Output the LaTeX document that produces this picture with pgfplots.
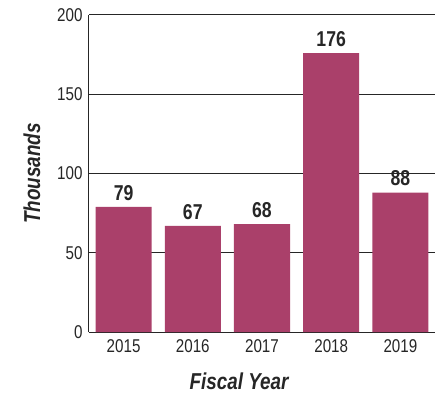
\documentclass[border=0pt]{standalone}
\usepackage{fontspec}
\setmainfont{Liberation Sans}[FakeStretch=0.82]
\usepackage{pgfplots}
\pgfplotsset{compat=1.18}
\definecolor{barc}{RGB}{170,64,106}
\begin{document}
\begin{tikzpicture}
\useasboundingbox (-89pt,-61pt) rectangle (354pt,332pt);
\begin{axis}[
  scale only axis,
  width=346pt, height=317pt,
  anchor=south west, at={(0pt,0pt)},
  xmin=-0.5, xmax=4.5,
  ymin=0, ymax=200,
  axis x line*=bottom,
  axis y line*=left,
  axis line style={line width=1pt, black!85},
  ytick={0,50,100,150,200},
  xtick={0,1,2,3,4},
  xticklabels={2015,2016,2017,2018,2019},
  major tick length=0pt,
  ymajorgrids,
  grid style={line width=1pt, black!85},
  /pgf/number format/assume math mode=true,
  tick label style={font=\fontsize{18.5}{21}\selectfont, text=black!85},
  yticklabel style={xshift=-3pt},
  xticklabel style={yshift=-4pt},
  xlabel={\textbf{\textit{Fiscal Year}}},
  ylabel={\textbf{\textit{Thousands}}},
  label style={font=\fontsize{23}{26}\selectfont, text=black!85},
  xlabel style={at={(axis description cs:0.435,0)}, anchor=north, yshift=-37pt},
  ylabel style={at={(axis description cs:0,0.5)}, anchor=south, yshift=45pt},
  nodes near coords,
  nodes near coords style={font=\fontsize{21.5}{24}\selectfont\bfseries, text=black!85, yshift=3pt},
  point meta=y,
  clip=false,
]
\addplot[ybar, bar width=56pt, fill=barc, draw=none] coordinates {(0,79) (1,67) (2,68) (3,176) (4,88)};
\end{axis}
\end{tikzpicture}
\end{document}
